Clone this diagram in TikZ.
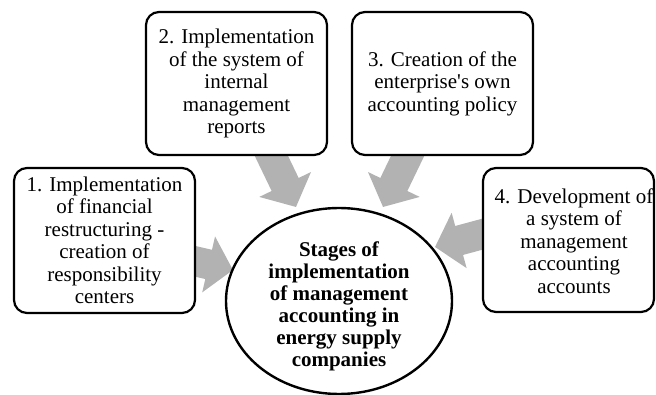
\documentclass[tikz,border=0pt]{standalone}
\usepackage{fontspec}
\setmainfont{Liberation Serif}
\usetikzlibrary{arrows.meta,backgrounds,shapes.geometric}
\definecolor{arrowgray}{RGB}{178,178,178}
\begin{document}
\begin{tikzpicture}[x=1pt,y=-1pt,
  stagebox/.style={draw=black, line width=2.2pt, rounded corners=13pt, fill=white, inner sep=0pt},
  txt/.style={align=center, font=\fontsize{21}{22.5}\selectfont, inner sep=0pt},
  hub/.style={draw=black, line width=2.4pt, ellipse, fill=white, minimum width=226pt, minimum height=186pt, inner sep=0pt},
  bigarrow/.style={draw=arrowgray, line width=30pt, -{Triangle[width=56pt,length=25pt]}}]
\useasboundingbox (0,0) rectangle (656,395);

% boxes
\node[stagebox, minimum width=181pt, minimum height=145pt] (b1) at (104.5,240.5) {};
\node[stagebox, minimum width=181pt, minimum height=143pt] (b2) at (236.5,83.5) {};
\node[stagebox, minimum width=181pt, minimum height=143pt] (b3) at (442.5,83.5) {};
\node[stagebox, minimum width=171pt, minimum height=144pt] (b4) at (568.5,240) {};
\node[hub] (c) at (339,301) {};

% texts
\node[txt] (t1) at (b1.center) {1. Implementation\\of financial\\restructuring -\\creation of\\responsibility\\centers};
\node[txt] (t2) at (b2.center) {2. Implementation\\of the system of\\internal\\management\\reports};
\node[txt] (t3) at (b3.center) {3. Creation of the\\enterprise\textquotesingle s own\\accounting policy};
\node[txt] (t4) at (574,241) {4. Development of\\a system of\\management\\accounting\\accounts};
\node[txt, font=\fontsize{21}{22}\selectfont\bfseries] (tc) at (339,306) {Stages of\\implementation\\of management\\accounting in\\energy supply\\companies};

% arrow end points
\coordinate (a1e) at (233,270);
\coordinate (a2e) at (296,207);
\coordinate (a3e) at (383,207);
\coordinate (a4s) at (568,211);
\coordinate (a4e) at (435,247);

\begin{pgfonlayer}{background}
\draw[bigarrow] (b1.center) -- (a1e);
\draw[bigarrow] (b2.center) -- (a2e);
\draw[bigarrow] (b3.center) -- (a3e);
\draw[bigarrow] (a4s) -- (a4e);
\end{pgfonlayer}
\end{tikzpicture}
\end{document}
